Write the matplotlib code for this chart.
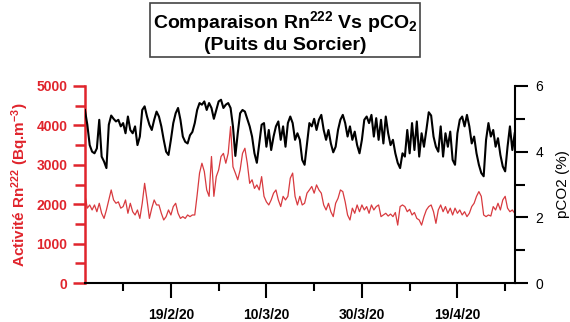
import matplotlib
matplotlib.use("Agg")
import matplotlib.pyplot as plt
import matplotlib.dates as mdates
from matplotlib.ticker import MultipleLocator, FuncFormatter
import pandas as pd

plt.rcParams['font.family'] = ['Liberation Sans', 'DejaVu Sans']
plt.rcParams['mathtext.default'] = 'regular'

# two readings per day, 1 Feb -> 1 May 2020
dates = pd.date_range('2020-02-01', periods=181, freq='12h')

# Rn222 activity (Bq.m-3)
rn222 = [
    2235, 1900, 1981, 1854, 1981, 1810, 2024, 1770, 1640, 1854,
    2108, 2362, 2108, 2024, 2060, 1900, 1940, 2108, 1770, 2024,
    1810, 1727, 1854, 1640, 2024, 2530, 2108, 1640, 1900, 2108,
    1981, 1981, 1770, 1600, 1685, 1854, 1727, 1940, 2024, 1770,
    1640, 1685, 1640, 1727, 1685, 1727, 1727, 2235, 2790, 3040,
    2830, 2362, 2200, 3210, 2200, 2700, 2870, 3210, 3290, 3040,
    3290, 3970, 2950, 2790, 2620, 2870, 3290, 3420, 3040, 2530,
    2620, 2400, 2490, 2362, 2700, 2200, 2060, 1981, 2108, 2280,
    2362, 2108, 1940, 2200, 2108, 2200, 2660, 2790, 2200, 1981,
    2200, 1981, 2024, 2280, 2362, 2450, 2280, 2490, 2362, 2280,
    1981, 1854, 2024, 1810, 1685, 2024, 2150, 2362, 2320, 2060,
    1727, 1600, 1900, 1770, 1981, 1810, 1981, 1854, 1940, 1770,
    1981, 1854, 1940, 1981, 1685, 1727, 1770, 1700, 1750, 1685,
    1790, 1470, 1940, 1981, 1940, 1810, 1870, 1727, 1790, 1640,
    1600, 1470, 1685, 1854, 1940, 1981, 1810, 1515, 1854, 1981,
    1810, 1940, 1770, 1900, 1727, 1900, 1770, 1854, 1727, 1810,
    1685, 1770, 1940, 2024, 2200, 2320, 2200, 1727, 1685, 1727,
    1700, 1940, 1854, 2024, 1854, 2108, 2200, 1900, 1810, 1854,
    1770,
]

# pCO2 (%)
pco2 = [
    5.27, 4.82, 4.20, 4.00, 3.95, 4.10, 4.97, 3.85, 3.70, 3.50,
    4.82, 5.10, 5.00, 4.92, 4.97, 4.77, 4.87, 4.56, 5.07, 4.66,
    4.56, 4.77, 4.20, 4.46, 5.27, 5.38, 5.07, 4.82, 4.66, 4.97,
    5.22, 5.07, 4.77, 4.36, 4.00, 3.90, 4.36, 4.87, 5.17, 5.33,
    4.97, 4.46, 4.30, 4.25, 4.50, 4.60, 4.87, 5.27, 5.48, 5.43,
    5.53, 5.27, 5.48, 5.33, 5.00, 5.27, 5.53, 5.58, 5.33, 5.43,
    5.48, 5.33, 4.77, 3.87, 4.56, 5.17, 5.27, 5.22, 5.00, 4.77,
    4.46, 3.95, 3.66, 4.25, 4.82, 4.87, 4.15, 4.66, 4.05, 4.46,
    4.77, 4.92, 4.36, 4.77, 4.15, 4.87, 5.07, 4.87, 4.36, 4.56,
    4.36, 3.75, 3.60, 4.25, 4.87, 4.77, 5.00, 4.66, 4.97, 5.12,
    4.66, 4.36, 4.66, 4.25, 3.98, 4.15, 4.66, 4.97, 5.12, 4.87,
    4.46, 4.77, 4.36, 4.61, 4.20, 3.95, 4.36, 4.97, 5.07, 4.87,
    5.12, 4.46, 5.02, 4.36, 4.97, 4.25, 5.07, 4.56, 4.20, 4.36,
    3.95, 3.66, 3.50, 3.95, 3.85, 4.66, 3.95, 4.87, 4.05, 4.92,
    3.85, 4.56, 4.15, 4.66, 5.20, 5.10, 4.46, 4.15, 4.00, 4.77,
    3.85, 4.56, 4.15, 4.61, 3.75, 3.60, 4.56, 4.97, 5.07, 4.77,
    5.12, 4.77, 4.25, 4.46, 3.95, 3.60, 3.35, 3.25, 4.36, 4.87,
    4.46, 4.66, 4.15, 4.41, 3.90, 3.55, 3.40, 4.15, 4.77, 4.05,
    4.56,
]

major_days = ['2020-02-19', '2020-03-10', '2020-03-30', '2020-04-19']
minor_days = ['2020-02-09', '2020-02-29', '2020-03-20', '2020-04-09', '2020-04-29']

RED = '#e0242c'
LINE_RED = '#d83a3f'

fig = plt.figure(figsize=(5.7, 3.22), dpi=100)
ax = fig.add_axes([0.149, 0.121, 0.754, 0.612])
ax2 = ax.twinx()

ax.plot(dates, rn222, color=LINE_RED, lw=0.9)
ax2.plot(dates, pco2, color='black', lw=1.5)

ax.set_xlim(pd.Timestamp('2020-02-01'), pd.Timestamp('2020-05-01'))
ax.set_ylim(0, 5000)
ax2.set_ylim(0, 6)

# x axis
ax.set_xticks(pd.to_datetime(major_days))
ax.set_xticks(pd.to_datetime(minor_days), minor=True)
ax.xaxis.set_major_formatter(FuncFormatter(
    lambda v, pos: '{}/{}/{}'.format(mdates.num2date(v).day,
                                     mdates.num2date(v).month,
                                     mdates.num2date(v).year % 100)))
ax.tick_params(axis='x', which='major', length=11, width=1.5, pad=7,
               labelsize=10)
ax.tick_params(axis='x', which='minor', length=6, width=1.5)
for lab in ax.get_xticklabels():
    lab.set_fontweight('bold')

# left axis (Rn)
ax.yaxis.set_major_locator(MultipleLocator(1000))
ax.yaxis.set_minor_locator(MultipleLocator(500))
ax.tick_params(axis='y', which='both', colors=RED, width=1.8, labelsize=10)
ax.tick_params(axis='y', which='major', length=9)
ax.tick_params(axis='y', which='minor', length=7)
for lab in ax.get_yticklabels():
    lab.set_fontweight('bold')
ax.set_ylabel('Activité Rn$^{222}$ (Bq.m$^{-3}$)', color=RED,
              fontsize=11, fontweight='bold', labelpad=4)

# right axis (pCO2)
ax2.yaxis.set_major_locator(MultipleLocator(2))
ax2.yaxis.set_minor_locator(MultipleLocator(1))
ax2.tick_params(axis='y', which='both', width=1.5, labelsize=10, pad=6)
ax2.tick_params(axis='y', which='major', length=9)
ax2.tick_params(axis='y', which='minor', length=7)
ax2.set_ylabel('pCO2 (%)', fontsize=11, labelpad=9)

for a in (ax, ax2):
    for side in ('top', 'left', 'right', 'bottom'):
        a.spines[side].set_visible(False)
ax.spines['left'].set_visible(True)
ax.spines['left'].set_color(RED)
ax.spines['left'].set_linewidth(1.8)
ax.spines['bottom'].set_visible(True)
ax.spines['bottom'].set_linewidth(1.5)
ax2.spines['right'].set_visible(True)
ax2.spines['right'].set_linewidth(1.5)

fig.text(0.5, 0.903, 'Comparaison Rn$^{222}$ Vs pCO$_2$\n(Puits du Sorcier)',
         ha='center', va='center', ma='center', fontsize=14,
         fontweight='bold', linespacing=1.15,
         bbox=dict(boxstyle='square,pad=0.15', fc='white', ec='#444444',
                   lw=1.2))

fig.savefig('out.png', dpi=100)
